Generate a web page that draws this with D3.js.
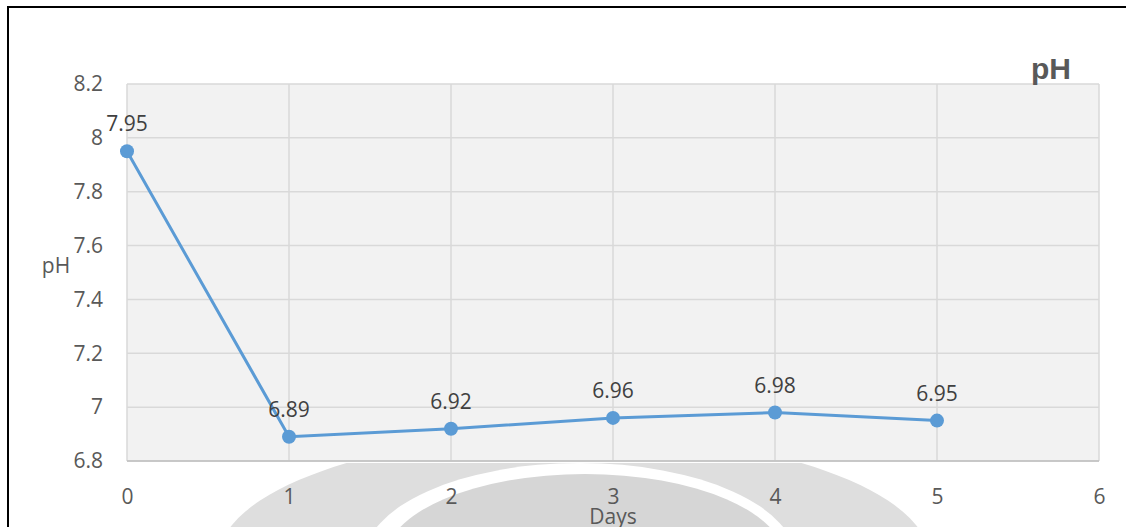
<!DOCTYPE html>
<html><head><meta charset="utf-8">
<script src="https://cdn.jsdelivr.net/npm/d3@7"></script>
<style>html,body{margin:0;padding:0;background:#fff;}svg{display:block;}</style>
</head><body>
<svg id="chart" width="1126" height="527"></svg>
<script>
const days = [0, 1, 2, 3, 4, 5];
const phValues = [7.95, 6.89, 6.92, 6.96, 6.98, 6.95];
const xTicks = [0, 1, 2, 3, 4, 5, 6];
const yTicks = [6.8, 7, 7.2, 7.4, 7.6, 7.8, 8, 8.2];
const titleText = "pH";
const xTitle = "Days";
const yTitle = "pH";

const svg = d3.select("#chart");
const W = 1126, H = 527;
const m = {left: 127, right: 1099, top: 84, bottom: 461};
const x = d3.scaleLinear().domain([0, 6]).range([m.left, m.right]);
const y = d3.scaleLinear().domain([6.8, 8.2]).range([m.bottom, m.top]);
const font = "'Open Sans', 'Noto Sans', sans-serif";
const fs = 21;

// watermark (background decoration)
const wm = svg.append("g");
wm.append("ellipse").attr("cx", 574).attr("cy", 560).attr("rx", 356).attr("ry", 126).attr("fill", "#dedede");
wm.append("ellipse").attr("cx", 580).attr("cy", 560).attr("rx", 216).attr("ry", 97).attr("fill", "#ffffff");
wm.append("ellipse").attr("cx", 585).attr("cy", 560).attr("rx", 200).attr("ry", 86).attr("fill", "#d6d6d6");

// frame
svg.append("line").attr("x1", 8).attr("x2", W).attr("y1", 7).attr("y2", 7).attr("stroke", "#000").attr("stroke-width", 2);
svg.append("line").attr("x1", 8).attr("x2", 8).attr("y1", 6).attr("y2", H).attr("stroke", "#000").attr("stroke-width", 2);

// plot area
svg.append("rect").attr("x", m.left).attr("y", m.top).attr("width", m.right - m.left).attr("height", m.bottom - m.top).attr("fill", "#f2f2f2");
svg.append("rect").attr("x", m.left).attr("y", m.bottom).attr("width", m.right - m.left).attr("height", 2).attr("fill", "#ffffff");

// grid
svg.append("g").selectAll("line.h").data(yTicks).join("line")
  .attr("x1", m.left).attr("x2", m.right).attr("y1", d => y(d)).attr("y2", d => y(d))
  .attr("stroke", "#d9d9d9").attr("stroke-width", 1.5);
svg.append("g").selectAll("line.v").data(xTicks).join("line")
  .attr("x1", d => x(d)).attr("x2", d => x(d)).attr("y1", m.top).attr("y2", m.bottom)
  .attr("stroke", "#d9d9d9").attr("stroke-width", 1.5);
svg.append("line").attr("x1", m.left).attr("x2", m.right).attr("y1", m.bottom).attr("y2", m.bottom)
  .attr("stroke", "#bfbfbf").attr("stroke-width", 1.5);

// axes labels
const yAxis = d3.axisLeft(y).tickValues(yTicks).tickSize(0).tickPadding(24).tickFormat(d3.format("~g"));
const gy = svg.append("g").attr("transform", `translate(${m.left},0)`).call(yAxis);
gy.select(".domain").remove();
gy.selectAll("text").attr("font-family", font).attr("font-size", fs).attr("fill", "#595959");

const xAxis = d3.axisBottom(x).tickValues(xTicks).tickSize(0).tickPadding(28).tickFormat(d3.format("d"));
const gx = svg.append("g").attr("transform", `translate(0,${m.bottom})`).call(xAxis);
gx.select(".domain").remove();
gx.selectAll("text").attr("font-family", font).attr("font-size", fs).attr("fill", "#595959");

// axis titles
svg.append("text").attr("x", 613).attr("y", 524).attr("text-anchor", "middle")
  .attr("font-family", font).attr("font-size", fs).attr("fill", "#595959").text(xTitle);
svg.append("text").attr("x", 56).attr("y", 273).attr("text-anchor", "middle")
  .attr("font-family", font).attr("font-size", fs).attr("fill", "#595959").text(yTitle);

// title
svg.append("text").attr("x", 1051).attr("y", 79).attr("text-anchor", "middle")
  .attr("font-family", "'Liberation Sans', Arial, sans-serif").attr("font-weight", "bold")
  .attr("font-size", 30).attr("fill", "#595959").text(titleText);

// line
const data = days.map((d, i) => ({d, v: phValues[i]}));
svg.append("path").datum(data)
  .attr("d", d3.line().x(p => x(p.d)).y(p => y(p.v)))
  .attr("fill", "none").attr("stroke", "#5b9bd5").attr("stroke-width", 3);
svg.append("g").selectAll("circle").data(data).join("circle")
  .attr("cx", p => x(p.d)).attr("cy", p => y(p.v)).attr("r", 7).attr("fill", "#5b9bd5");

// data labels
svg.append("g").selectAll("text").data(data).join("text")
  .attr("x", p => x(p.d)).attr("y", p => y(p.v) - 20)
  .attr("text-anchor", "middle").attr("font-family", font).attr("font-size", fs).attr("fill", "#404040")
  .text(p => p.v.toFixed(2));
</script>
</body></html>
